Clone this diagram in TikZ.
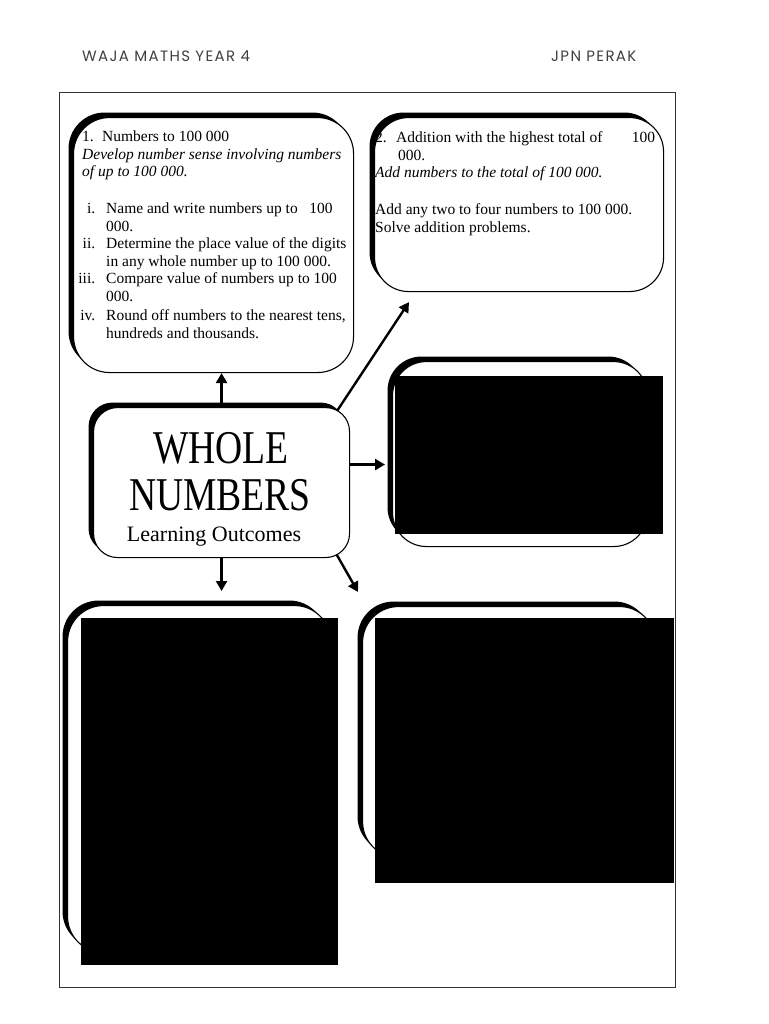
\documentclass[tikz,border=0pt]{standalone}
\usepackage{fontspec}
\setmainfont{Liberation Serif}
\newfontfamily\hdrfont[LetterSpace=9]{Poppins}
\usetikzlibrary{arrows.meta,shadows,calc}
\pgfdeclarelayer{bg}
\pgfdeclarelayer{mid}
\pgfsetlayers{bg,mid,main}
\begin{document}
\begin{tikzpicture}[x=1pt,y=-1pt,
  box/.style={draw=black, line width=1.1pt, fill=white, inner sep=0pt, anchor=north west,
    drop shadow={shadow xshift=-5pt, shadow yshift=5pt, fill=black, opacity=1}},
  conn/.style={line width=2.4pt, -{Triangle[length=10pt,width=11pt]}},
  txt/.style={anchor=north west, inner sep=0pt, align=left, font=\fontsize{15.5}{17.5}\selectfont},
  hdr/.style={anchor=base west, inner sep=0pt, font=\hdrfont\fontsize{15}{15}\selectfont, text=black!75},
  redact/.style={fill=black},
]
\begin{pgfonlayer}{bg}
\fill[white] (0,0) rectangle (768,1024);
\end{pgfonlayer}
\useasboundingbox (0,0) rectangle (768,1024);

% header
\node[hdr] (h1) at (82,62) {WAJA MATHS YEAR 4};
\node[hdr] (h2) at (551,62) {JPN PERAK};

% page frame
\draw[line width=0.9pt, black!80] (59,92) rectangle (675,987);

% boxes
\node[box, rounded corners=36pt, minimum width=280pt, minimum height=255pt] (b1) at (73,117) {};
\node[box, rounded corners=34pt, minimum width=289pt, minimum height=174pt] (b2) at (374,117) {};
\node[box, rounded corners=24pt, minimum width=256pt, minimum height=150pt] (c) at (93,407) {};
\node[box, rounded corners=34pt, minimum width=255pt, minimum height=185pt] (b3) at (392,361) {};
\node[box, rounded corners=36pt, minimum width=263pt, minimum height=347pt] (b4) at (67,605) {};
\node[box, rounded corners=36pt, minimum width=293pt, minimum height=251pt] (b5) at (362,606) {};

% connectors
\begin{pgfonlayer}{mid}
\draw[conn] (c.north) -- (c.north |- b1.south);
\draw[conn] ($(c.north east)+(-25,22)$) -- ($(b2.south west)+(35,10)$);
\draw[conn] ($(c.east)+(-10,-18)$) -- ($(b3.west |- c.east)+(-7,-18)$);
\draw[conn] (c.south) -- ($(c.south |- b4.north)+(0,-14)$);
\draw[conn] ($(c.south east)+(-20,-15)$) -- ($(b5.north west)+(-4,-14)$);
\end{pgfonlayer}

% box 1 text
\node[txt] (t1) at (82,131) {%
\makebox[20pt][l]{1.}Numbers to 100 000\\
\textit{Develop number sense involving numbers}\\
\textit{of up to 100 000.}\\[19.5pt]
\makebox[13pt][r]{i.}\hspace{11pt}Name and write numbers up to \ \ 100\\
\hspace{24pt}000.\\
\makebox[13pt][r]{ii.}\hspace{11pt}Determine the place value of the digits\\
\hspace{24pt}in any whole number up to 100 000.\\
\makebox[13pt][r]{iii.}\hspace{11pt}Compare value of numbers up to 100\\
\hspace{24pt}000.\\[2pt]
\makebox[13pt][r]{iv.}\hspace{11pt}Round off numbers to the nearest tens,\\
\hspace{24pt}hundreds and thousands.};

% box 2 text
\node[txt] (t2) at (375,131.5) {%
\hbox to 280pt{\makebox[21pt][l]{2.}Addition with the highest total of\hfill 100}\\
\hspace{23pt}000.\\
\textit{Add numbers to the total of 100 000.}\\[19.5pt]
Add any two to four numbers to 100 000.\\
Solve addition problems.};

% centre text
\node[anchor=base, inner sep=0pt] (w1) at (221,463) {\scalebox{0.8}[1]{\fontsize{47}{47}\selectfont WHOLE}};
\node[anchor=base, inner sep=0pt] (w2) at (220,510) {\scalebox{0.8}[1]{\fontsize{47}{47}\selectfont NUMBERS}};
\node[anchor=base, inner sep=0pt, font=\fontsize{22}{22}\selectfont] (w3) at (214,541) {Learning Outcomes};

% redaction blocks
\fill[redact] (395,376) rectangle (663,534);
\fill[redact] (81,618) rectangle (338,965);
\fill[redact] (375,618) rectangle (674,883);
\end{tikzpicture}
\end{document}
